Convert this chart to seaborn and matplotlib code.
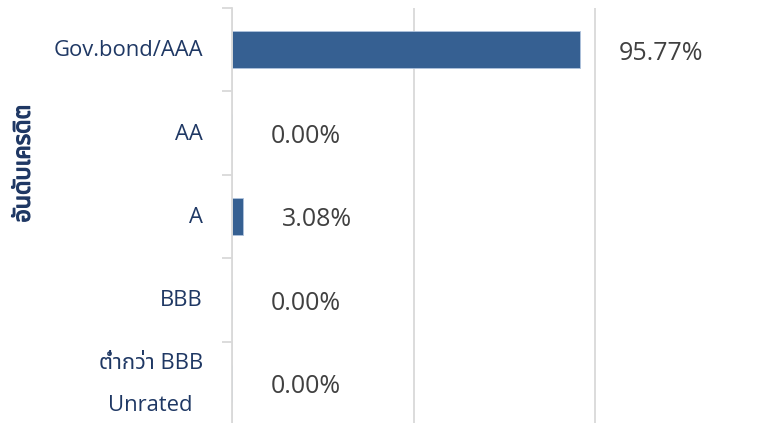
import matplotlib
matplotlib.use("Agg")
import matplotlib.pyplot as plt
import matplotlib.patheffects as pe
from matplotlib.transforms import ScaledTranslation
import seaborn as sns
import pandas as pd
from matplotlib import font_manager, ft2font

categories = ["Gov.bond/AAA", "AA", "A", "BBB", "ต่ำกว่า BBB\nUnrated"]
values = [95.77, 0.00, 3.08, 0.00, 0.00]
value_labels = [f"{v:.2f}%" for v in values]
y_title = "อันดับเครดิต"
x_ticks = [0, 50, 100]


def find_thai_fonts():
    found = []
    seen = set()
    for f in font_manager.fontManager.ttflist:
        if f.name in seen:
            continue
        try:
            cm = ft2font.FT2Font(f.fname).get_charmap()
        except Exception:
            continue
        if 0x0E15 in cm and 0x0E33 in cm and 0x0E48 in cm:
            found.append(f.name)
            seen.add(f.name)
    return found


thai_fonts = find_thai_fonts()
pref = ["Leelawadee UI", "Leelawadee", "Tahoma", "Noto Sans Thai", "Noto Sans Thai UI",
        "Sarabun", "Loma", "Garuda", "Norasi", "Kinnari", "Waree", "Umpush"]
ordered = [p for p in pref if p in thai_fonts] + [t for t in thai_fonts if t not in pref]

sns.set_theme(style="white")
plt.rcParams["font.family"] = ["Open Sans"] + ordered + ["DejaVu Sans"]
cat_family = ["Open Sans"] + ordered + ["DejaVu Sans"]

navy = "#1F3864"
grey_txt = "#404040"
line_grey = "#D9D9D9"
bar_color = "#366092"

df = pd.DataFrame({"cat": categories, "val": values})

fig = plt.figure(figsize=(7.64, 4.23), dpi=100)
ax = fig.add_axes([232 / 764, -2 / 423, 1 - 232 / 764, 417 / 423])
sns.barplot(data=df, x="val", y="cat", orient="h", color=bar_color, width=0.45,
            saturation=1, edgecolor="#AFC3DD", linewidth=0.6, ax=ax)

ax.set_xlim(0, 146.5)
ax.set_ylim(4.5, -0.5)
ax.set_xticks(x_ticks)
ax.set_xticklabels([])
ax.tick_params(axis="x", length=0)
ax.grid(axis="x", color=line_grey, linewidth=1.3)
ax.grid(axis="y", visible=False)
ax.set_axisbelow(True)

for s in ["top", "right", "bottom"]:
    ax.spines[s].set_visible(False)
ax.spines["left"].set_color(line_grey)
ax.spines["left"].set_linewidth(1.3)

ax.set_yticks(range(len(categories)))
ax.set_yticklabels(categories, fontsize=15.8, color=navy, family=cat_family,
                   multialignment="center", linespacing=2.32)
ax.set_yticks([i - 0.5 for i in range(len(categories) + 1)], minor=True)
ax.tick_params(axis="y", which="major", length=0, pad=21)
ax.tick_params(axis="y", which="minor", length=7.5, width=1.3, color=line_grey, left=True)

ax.set_xlabel("")
ax.set_ylabel("")
fig.text(0.031, 0.613, y_title, rotation=90, fontsize=16.8, fontweight="bold",
         color=navy, ha="center", va="center", family=cat_family,
         path_effects=[pe.withStroke(linewidth=0.9, foreground=navy)])

for patch, lab in zip(ax.containers[0], value_labels):
    x_end = patch.get_x() + patch.get_width()
    y_mid = patch.get_y() + patch.get_height() / 2
    ax.annotate(lab, xy=(x_end, y_mid), xytext=(28, -2.5), textcoords="offset points",
                ha="left", va="center", fontsize=18, color=grey_txt)

ticklabs = ax.get_yticklabels()
for i, lab in enumerate(ticklabs):
    dy = 8.6 if i == len(ticklabs) - 1 else 1.1
    lab.set_transform(lab.get_transform() + ScaledTranslation(0, dy / 72, fig.dpi_scale_trans))

fig.savefig("out.png", dpi=100)
